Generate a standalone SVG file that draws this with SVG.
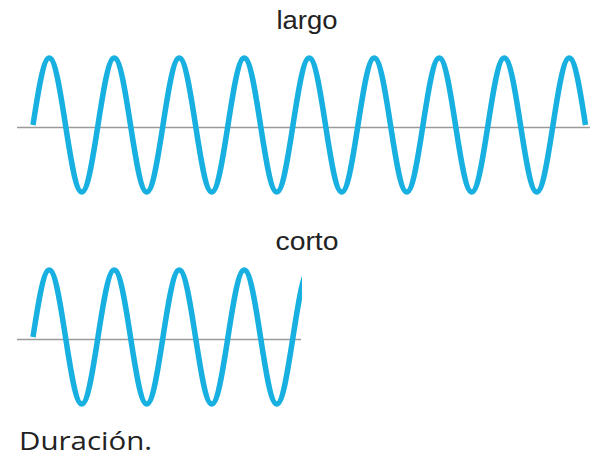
<svg xmlns="http://www.w3.org/2000/svg" width="590" height="458" viewBox="0 0 590 458">
  <style>
    .axis { stroke: #9a9a9a; stroke-width: 1.6; fill: none; }
    .wave { stroke: #17b0e0; stroke-width: 5.5; fill: none; stroke-linejoin: round; }
    .lbl { font-family: "Liberation Sans", Arial, sans-serif; font-size: 25px; fill: #222; }
    .cap { font-family: "Open Sans", "Liberation Sans", sans-serif; font-size: 26px; fill: #222; }
  </style>
  <defs>
    <clipPath id="clipShort">
      <rect x="0" y="230" width="302" height="200"/>
    </clipPath>
  </defs>
  <rect width="590" height="458" fill="#ffffff"/>
  <g id="largo">
    <text class="lbl" x="307" y="28.5" text-anchor="middle" textLength="61" lengthAdjust="spacingAndGlyphs">largo</text>
    <line class="axis" x1="17" y1="127.5" x2="590" y2="127.5"/>
    <path class="wave" d="M33,125
      c5.3,-34.3 10.37,-67 16.25,-67 c5.88,0 10.95,32.7 16.25,67 c5.3,34.3 10.37,67 16.25,67 c5.88,0 10.95,-32.7 16.25,-67
      c5.3,-34.3 10.37,-67 16.25,-67 c5.88,0 10.95,32.7 16.25,67 c5.3,34.3 10.37,67 16.25,67 c5.88,0 10.95,-32.7 16.25,-67
      c5.3,-34.3 10.37,-67 16.25,-67 c5.88,0 10.95,32.7 16.25,67 c5.3,34.3 10.37,67 16.25,67 c5.88,0 10.95,-32.7 16.25,-67
      c5.3,-34.3 10.37,-67 16.25,-67 c5.88,0 10.95,32.7 16.25,67 c5.3,34.3 10.37,67 16.25,67 c5.88,0 10.95,-32.7 16.25,-67
      c5.3,-34.3 10.37,-67 16.25,-67 c5.88,0 10.95,32.7 16.25,67 c5.3,34.3 10.37,67 16.25,67 c5.88,0 10.95,-32.7 16.25,-67
      c5.3,-34.3 10.37,-67 16.25,-67 c5.88,0 10.95,32.7 16.25,67 c5.3,34.3 10.37,67 16.25,67 c5.88,0 10.95,-32.7 16.25,-67
      c5.3,-34.3 10.37,-67 16.25,-67 c5.88,0 10.95,32.7 16.25,67 c5.3,34.3 10.37,67 16.25,67 c5.88,0 10.95,-32.7 16.25,-67
      c5.3,-34.3 10.37,-67 16.25,-67 c5.88,0 10.95,32.7 16.25,67 c5.3,34.3 10.37,67 16.25,67 c5.88,0 10.95,-32.7 16.25,-67
      c5.3,-34.3 10.37,-67 16.25,-67 c5.88,0 10.95,32.7 16.25,67"/>
  </g>
  <g id="corto">
    <text class="lbl" x="307" y="250" text-anchor="middle" textLength="63" lengthAdjust="spacingAndGlyphs">corto</text>
    <line class="axis" x1="17" y1="339.5" x2="301" y2="339.5"/>
    <path class="wave" clip-path="url(#clipShort)" d="M33,337
      c5.3,-34.3 10.37,-67 16.25,-67 c5.88,0 10.95,32.7 16.25,67 c5.3,34.3 10.37,67 16.25,67 c5.88,0 10.95,-32.7 16.25,-67
      c5.3,-34.3 10.37,-67 16.25,-67 c5.88,0 10.95,32.7 16.25,67 c5.3,34.3 10.37,67 16.25,67 c5.88,0 10.95,-32.7 16.25,-67
      c5.3,-34.3 10.37,-67 16.25,-67 c5.88,0 10.95,32.7 16.25,67 c5.3,34.3 10.37,67 16.25,67 c5.88,0 10.95,-32.7 16.25,-67
      c5.3,-34.3 10.37,-67 16.25,-67 c5.88,0 10.95,32.7 16.25,67 c5.3,34.3 10.37,67 16.25,67 c5.88,0 10.95,-32.7 16.25,-67
      c5.3,-34.3 10.37,-67 16.25,-67"/>
  </g>
  <g id="caption">
    <text class="cap" x="19" y="450" textLength="133" lengthAdjust="spacingAndGlyphs">Duración.</text>
  </g>
</svg>
